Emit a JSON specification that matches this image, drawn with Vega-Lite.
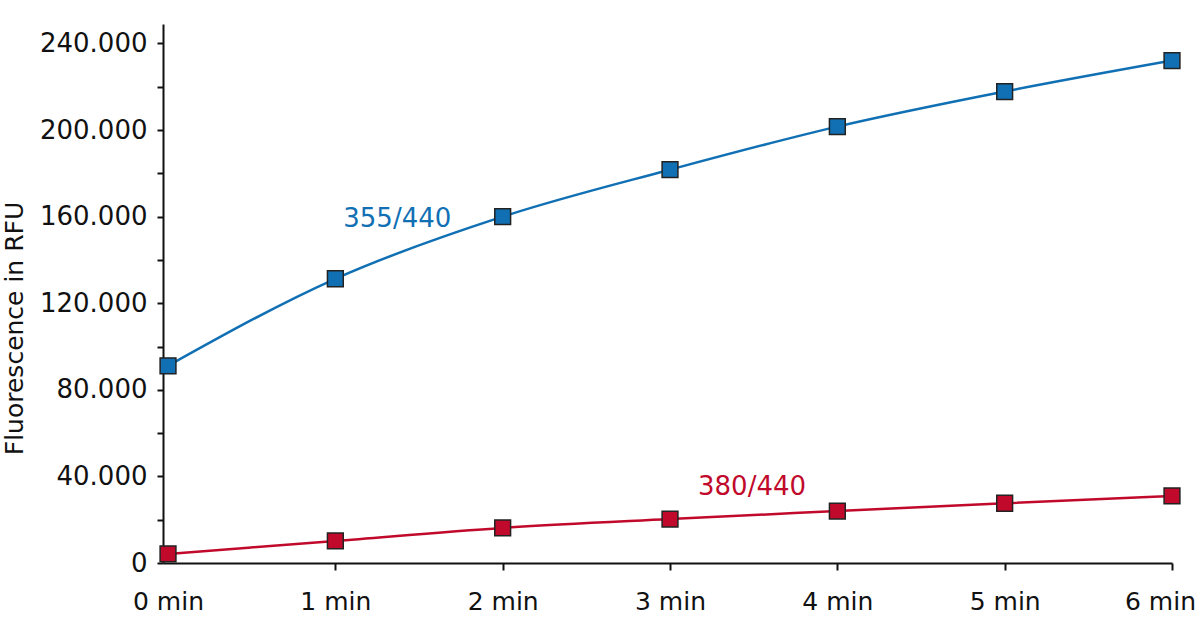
{
  "$schema": "https://vega.github.io/schema/vega-lite/v6.json",
  "autosize": {"type": "none"},
  "padding": {"left": 163, "top": 24, "right": 28, "bottom": 79},
  "width": 1009,
  "height": 539,
  "background": "white",
  "config": {
    "view": {"stroke": null},
    "font": "DejaVu Sans"
  },
  "datasets": {
    "points": [
      {"min": 0, "series": "355/440", "rfu": 91100},
      {"min": 1, "series": "355/440", "rfu": 131300},
      {"min": 2, "series": "355/440", "rfu": 160000},
      {"min": 3, "series": "355/440", "rfu": 181700},
      {"min": 4, "series": "355/440", "rfu": 201600},
      {"min": 5, "series": "355/440", "rfu": 217800},
      {"min": 6, "series": "355/440", "rfu": 232100},
      {"min": 0, "series": "380/440", "rfu": 4200},
      {"min": 1, "series": "380/440", "rfu": 10200},
      {"min": 2, "series": "380/440", "rfu": 16200},
      {"min": 3, "series": "380/440", "rfu": 20300},
      {"min": 4, "series": "380/440", "rfu": 24000},
      {"min": 5, "series": "380/440", "rfu": 27600},
      {"min": 6, "series": "380/440", "rfu": 31000}
    ],
    "labels": [
      {"min": 1.37, "rfu": 155400, "series": "355/440", "label": "355/440"},
      {"min": 3.49, "rfu": 31450, "series": "380/440", "label": "380/440"}
    ]
  },
  "encoding": {
    "x": {
      "field": "min",
      "type": "quantitative",
      "scale": {"domain": [-0.03, 6], "nice": false, "zero": false},
      "axis": {
        "values": [0, 1, 2, 3, 4, 5, 6],
        "labelExpr": "datum.value + ' min'",
        "title": null,
        "grid": false,
        "domainColor": "#111",
        "domainWidth": 2,
        "tickColor": "#111",
        "tickWidth": 2,
        "tickSize": 7,
        "tickOpacity": {"expr": "datum.value == 0 ? 0 : 1"},
        "labelFont": "DejaVu Sans",
        "labelFontSize": 25,
        "labelColor": "#111",
        "labelPadding": 19,
        "labelOffset": {"expr": "datum.value == 6 ? -12 : 0"},
        "labelFlush": false
      }
    },
    "y": {
      "field": "rfu",
      "type": "quantitative",
      "scale": {"domain": [0, 249000], "nice": false},
      "axis": {
        "values": [0, 20000, 40000, 60000, 80000, 100000, 120000, 140000, 160000, 180000, 200000, 220000, 240000],
        "labelExpr": "datum.value % 40000 == 0 ? replace(format(datum.value, ',d'), ',', '.') : ''",
        "title": "Fluorescence in RFU",
        "titleFont": "DejaVu Sans",
        "titleFontSize": 25,
        "titleFontWeight": "normal",
        "titleColor": "#111",
        "titlePadding": 12,
        "titleY": 304,
        "grid": false,
        "domainColor": "#111",
        "domainWidth": 2,
        "tickColor": "#111",
        "tickWidth": 2,
        "tickSize": 6,
        "labelFont": "DejaVu Sans",
        "labelFontSize": 26,
        "labelColor": "#111",
        "labelPadding": 10,
        "labelFlush": false
      }
    },
    "color": {
      "field": "series",
      "type": "nominal",
      "scale": {"domain": ["355/440", "380/440"], "range": ["#1170b4", "#c10a2b"]},
      "legend": null
    }
  },
  "layer": [
    {
      "data": {"name": "points"},
      "mark": {"type": "line", "interpolate": "monotone", "strokeWidth": 2.5}
    },
    {
      "data": {"name": "points"},
      "mark": {"type": "point", "shape": "square", "filled": true, "size": 250, "stroke": "#222", "strokeWidth": 1.5, "opacity": 1}
    },
    {
      "data": {"name": "labels"},
      "mark": {"type": "text", "align": "center", "baseline": "alphabetic", "font": "DejaVu Sans", "fontSize": 26},
      "encoding": {"text": {"field": "label"}}
    }
  ]
}
